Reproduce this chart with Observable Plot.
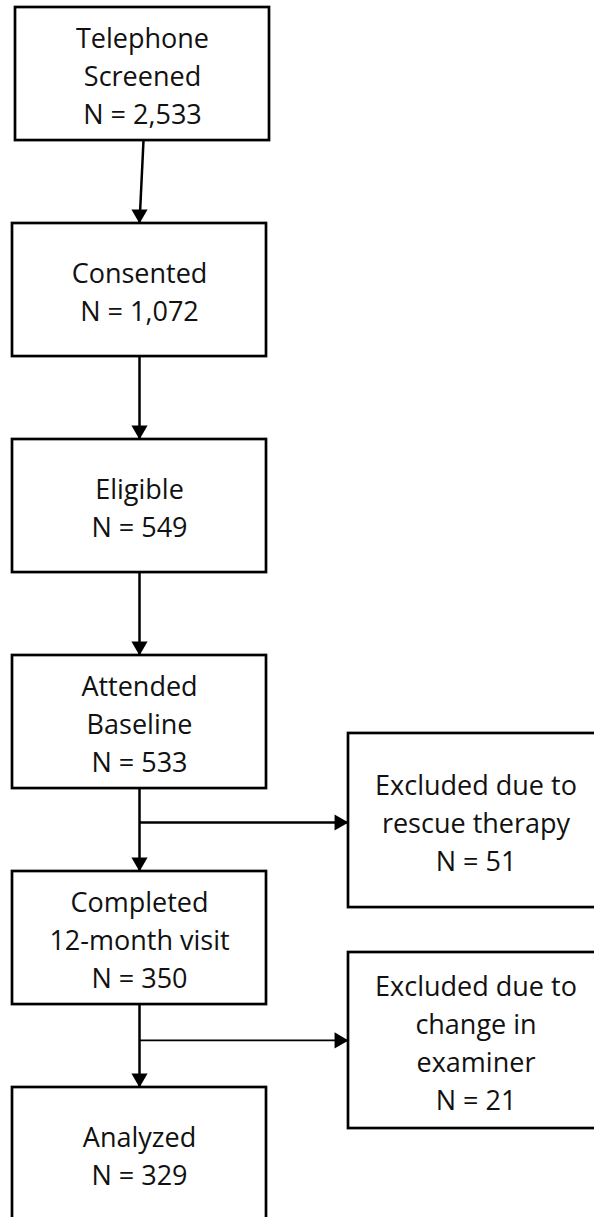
<!DOCTYPE html>
<html>
<head>
<meta charset="utf-8">
<script src="https://cdn.jsdelivr.net/npm/d3@7"></script>
<script src="https://cdn.jsdelivr.net/npm/@observablehq/plot@0.6"></script>
<style>
  html, body { margin: 0; padding: 0; background: #fff; overflow: hidden; }
  #chart svg { display: block; }
</style>
</head>
<body>
<div id="chart"></div>
<script>
// ---- Data ----
const stages = ["Telephone\nScreened", "Consented", "Eligible", "Attended\nBaseline", "Completed\n12-month visit", "Analyzed"];
const stageN = ["2,533", "1,072", "549", "533", "350", "329"];
const exclusions = ["Excluded due to\nrescue therapy", "Excluded due to\nchange in\nexaminer"];
const exclusionN = ["51", "21"];
const exclusionAfter = [3, 4]; // stage index from which each exclusion branches

// ---- Layout (row units: one row per stage) ----
const rowBoxHeight = 0.616;
const mainCol = {x1: 12, x2: 266};
const sideCol = {x1: 348, x2: 603};
const firstShift = 3;
const exclusionRows = [{y1: 3.361, y2: 4.167, branch: 3.773}, {y1: 4.375, y2: 5.19, branch: 4.782}];

const mainBoxes = stages.map((s, i) => ({
  label: s + "\nN = " + stageN[i],
  x1: mainCol.x1 + (i === 0 ? firstShift : 0),
  x2: mainCol.x2 + (i === 0 ? firstShift : 0),
  y1: i, y2: i + rowBoxHeight
}));
const sideBoxes = exclusions.map((s, i) => ({
  label: s + "\nN = " + exclusionN[i],
  x1: sideCol.x1, x2: sideCol.x2,
  y1: exclusionRows[i].y1, y2: exclusionRows[i].y2
}));
const boxes = mainBoxes.concat(sideBoxes);

const vLinks = d3.range(stages.length - 1).map(i => ({
  x1: (mainBoxes[i].x1 + mainBoxes[i].x2) / 2 + (i === 0 ? 1 : 0),
  y1: mainBoxes[i].y2,
  x2: (mainBoxes[i + 1].x1 + mainBoxes[i + 1].x2) / 2,
  y2: mainBoxes[i + 1].y1
}));
const hLinks = exclusionAfter.map((s, i) => ({
  x1: (mainBoxes[s].x1 + mainBoxes[s].x2) / 2,
  x2: sideCol.x1,
  y: exclusionRows[i].branch,
  w: i === 0 ? 2.5 : 1.6
}));

const W = 594, H = 1217, rowPx = 216, topPad = 7;

const chart = Plot.plot({
  width: W,
  height: H,
  margin: 0,
  x: {domain: [0, W], axis: null},
  y: {domain: [-topPad / rowPx, (H - topPad) / rowPx], reverse: true, axis: null},
  style: {background: "#fff"},
  marks: [
    Plot.link(vLinks, {x1: "x1", y1: "y1", x2: "x2", y2: "y2", stroke: "#000", strokeWidth: 2.5}),
    Plot.link(hLinks, {x1: "x1", x2: "x2", y1: "y", y2: "y", stroke: "#000", strokeWidth: "w"}),
    Plot.dot(vLinks, {x: "x2", y: "y2", symbol: "triangle", r: 6, rotate: 180, dy: -9.3, fill: "#000", stroke: "none"}),
    Plot.dot(hLinks, {x: "x2", y: "y", symbol: "triangle", r: 6, rotate: 90, dx: -9.3, fill: "#000", stroke: "none"}),
    Plot.rect(boxes, {x1: "x1", x2: "x2", y1: "y1", y2: "y2", fill: "#fff", stroke: "#000", strokeWidth: 2.7}),
    Plot.text(boxes, {
      x: d => (d.x1 + d.x2) / 2,
      y: d => (d.y1 + d.y2) / 2,
      text: "label",
      fontFamily: "Open Sans",
      fontSize: 27,
      lineHeight: 1.41,
      fill: "#111",
      textAnchor: "middle",
      lineAnchor: "middle"
    })
  ]
});
document.getElementById("chart").appendChild(chart);
</script>
</body>
</html>
